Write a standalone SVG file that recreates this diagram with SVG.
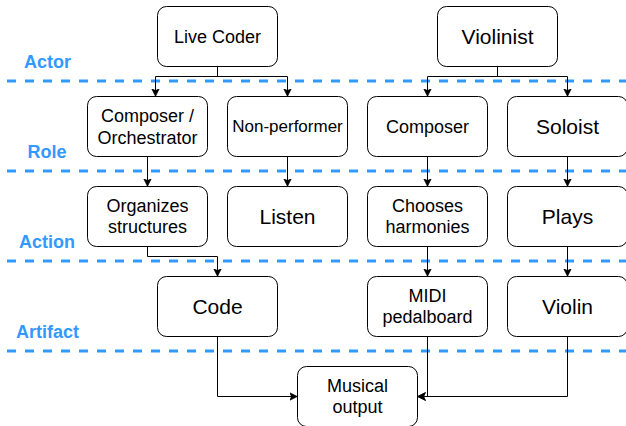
<svg xmlns="http://www.w3.org/2000/svg" width="626" height="426" viewBox="0 0 626 426">
<style>
.box{fill:#fff;stroke:#000;stroke-width:1}
.t{font-family:"Liberation Sans",Arial,Helvetica,sans-serif;fill:#000;text-anchor:middle}
.lane{stroke:#3399FF;stroke-width:3;stroke-dasharray:9 9;fill:none}
.lbl{font-family:"Liberation Sans",Arial,Helvetica,sans-serif;font-weight:bold;font-size:18px;fill:#3399FF;text-anchor:middle}
.c{fill:none;stroke:#000;stroke-width:1;marker-end:url(#arr)}
</style>
<defs>
<marker id="arr" markerUnits="userSpaceOnUse" markerWidth="10" markerHeight="10" refX="8" refY="4" orient="auto" viewBox="0 0 10 8">
<path d="M0,0 L8,4 L0,8 L2,4 Z" fill="#000" stroke="#000" stroke-width="0.5"/>
</marker>
</defs>
<rect width="626" height="426" fill="#fff"/>
<g id="lanes">
<line class="lane" x1="7" y1="81" x2="626" y2="81"/>
<line class="lane" x1="7" y1="171" x2="626" y2="171"/>
<line class="lane" x1="7" y1="261" x2="626" y2="261"/>
<line class="lane" x1="7" y1="351" x2="626" y2="351"/>
<text class="lbl" x="47.5" y="67.5">Actor</text>
<text class="lbl" x="47" y="157.5">Role</text>
<text class="lbl" x="47" y="247.5">Action</text>
<text class="lbl" x="47.5" y="337.5">Artifact</text>
</g>
<g id="connectors">
<path class="c" d="M217.5,66.5 V76.5 H155.5 V96.5"/>
<path class="c" d="M217.5,66.5 V76.5 H287.5 V96.5"/>
<path class="c" d="M497.5,66.5 V76.5 H427.5 V96.5"/>
<path class="c" d="M497.5,66.5 V76.5 H567.5 V96.5"/>
<path class="c" d="M147.5,156.5 V186.5"/>
<path class="c" d="M287.5,156.5 V186.5"/>
<path class="c" d="M427.5,156.5 V186.5"/>
<path class="c" d="M567.5,156.5 V186.5"/>
<path class="c" d="M147.5,246.5 V256.5 H217.5 V276.5"/>
<path class="c" d="M427.5,246.5 V276.5"/>
<path class="c" d="M567.5,246.5 V276.5"/>
<path class="c" d="M217.5,336.5 V396.5 H297.5"/>
<path class="c" d="M427.5,336.5 V396.5 H417.5"/>
<path class="c" d="M567.5,336.5 V396.5 H417.5"/>
</g>
<g id="live-coder"><rect class="box" x="157.5" y="6.5" width="120" height="60" rx="9"/><text class="t" x="217.5" y="42.8" font-size="18">Live Coder</text></g>
<g id="violinist"><rect class="box" x="437.5" y="6.5" width="120" height="60" rx="9"/><text class="t" x="497.5" y="43.9" font-size="21">Violinist</text></g>
<g id="composer-orchestrator"><rect class="box" x="87.5" y="96.5" width="120" height="60" rx="9"/><text class="t" x="147.5" y="122" font-size="18">Composer /</text><text class="t" x="147.5" y="143.6" font-size="18">Orchestrator</text></g>
<g id="non-performer"><rect class="box" x="227.5" y="96.5" width="120" height="60" rx="9"/><text class="t" x="287.5" y="132.4" font-size="17">Non-performer</text></g>
<g id="composer"><rect class="box" x="367.5" y="96.5" width="120" height="60" rx="9"/><text class="t" x="427.5" y="132.8" font-size="18">Composer</text></g>
<g id="soloist"><rect class="box" x="507.5" y="96.5" width="120" height="60" rx="9"/><text class="t" x="567.5" y="133.9" font-size="21">Soloist</text></g>
<g id="organizes"><rect class="box" x="87.5" y="186.5" width="120" height="60" rx="9"/><text class="t" x="147.5" y="211.7" font-size="18">Organizes</text><text class="t" x="147.5" y="233.3" font-size="18">structures</text></g>
<g id="listen"><rect class="box" x="227.5" y="186.5" width="120" height="60" rx="9"/><text class="t" x="287.5" y="223.9" font-size="21">Listen</text></g>
<g id="chooses"><rect class="box" x="367.5" y="186.5" width="120" height="60" rx="9"/><text class="t" x="427.5" y="211.7" font-size="18">Chooses</text><text class="t" x="427.5" y="233.3" font-size="18">harmonies</text></g>
<g id="plays"><rect class="box" x="507.5" y="186.5" width="120" height="60" rx="9"/><text class="t" x="567.5" y="223.9" font-size="21">Plays</text></g>
<g id="code"><rect class="box" x="157.5" y="276.5" width="120" height="60" rx="9"/><text class="t" x="217.5" y="313.9" font-size="21">Code</text></g>
<g id="midi"><rect class="box" x="367.5" y="276.5" width="120" height="60" rx="9"/><text class="t" x="427.5" y="301.7" font-size="18">MIDI</text><text class="t" x="427.5" y="323.3" font-size="18">pedalboard</text></g>
<g id="violin"><rect class="box" x="507.5" y="276.5" width="120" height="60" rx="9"/><text class="t" x="567.5" y="313.9" font-size="21">Violin</text></g>
<g id="musical-output"><rect class="box" x="297.5" y="366.5" width="120" height="60" rx="9"/><text class="t" x="357.5" y="391.8" font-size="18">Musical</text><text class="t" x="357.5" y="413.4" font-size="18">output</text></g>
</svg>
